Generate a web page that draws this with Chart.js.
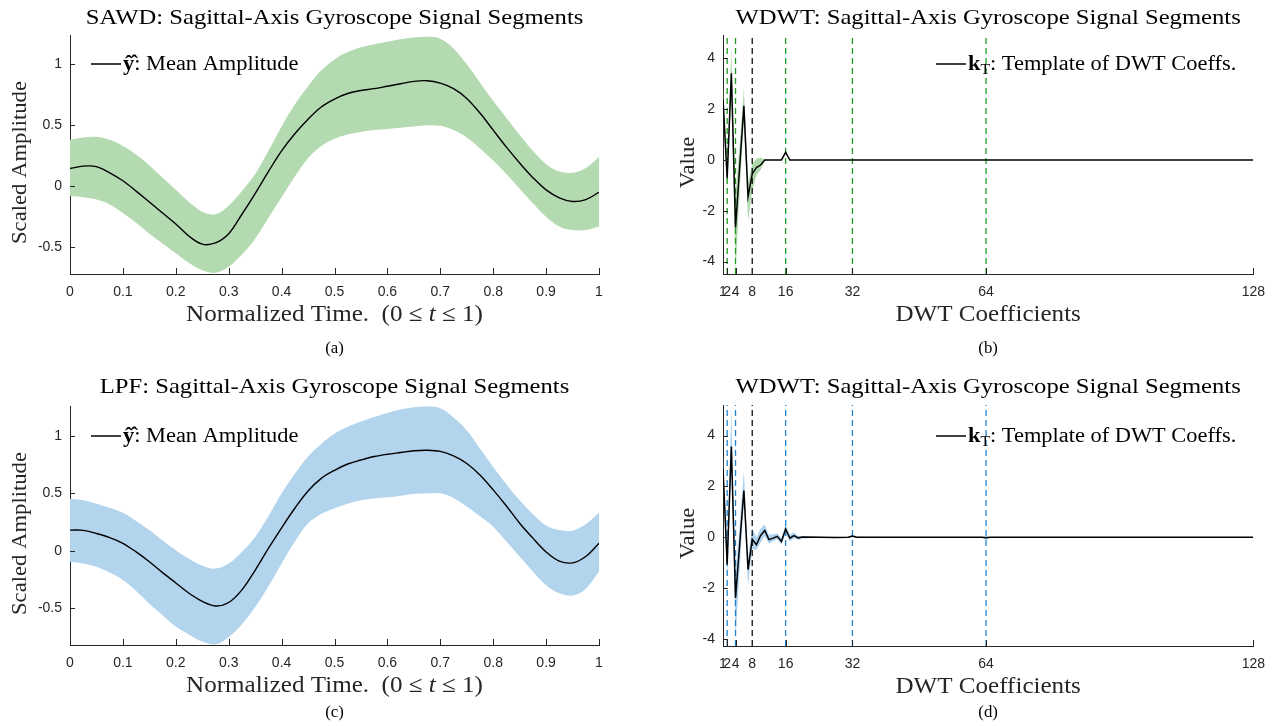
<!DOCTYPE html>
<html lang="en">
<head>
    <meta charset="UTF-8">
    <title>Sagittal-Axis Gyroscope Signal Segments</title>
    <script src="https://cdn.jsdelivr.net/npm/chart.js"></script>
    <style>
        body { margin: 0; background: #fff; }
        .figure { position: relative; width: 1275px; height: 726px; }
        .figure canvas { position: absolute; }
    </style>
</head>
<body>
<div class="figure">
    <canvas id="chartA" width="637" height="363" style="left:0;top:0"></canvas>
    <canvas id="chartB" width="637" height="363" style="left:638px;top:0"></canvas>
    <canvas id="chartC" width="637" height="363" style="left:0;top:363px"></canvas>
    <canvas id="chartD" width="637" height="363" style="left:638px;top:363px"></canvas>
</div>
<script>
    // ---- data ----
    const timeGrid = [0, 0.025, 0.05, 0.075, 0.1, 0.125, 0.15, 0.175, 0.2, 0.225,
                      0.25, 0.275, 0.3, 0.325, 0.35, 0.375, 0.4, 0.425, 0.45, 0.475,
                      0.5, 0.525, 0.55, 0.575, 0.6, 0.625, 0.65, 0.675, 0.7, 0.725,
                      0.75, 0.775, 0.8, 0.825, 0.85, 0.875, 0.9, 0.925, 0.95, 0.975, 1];

    const sawdMean  = [0.145, 0.165, 0.16, 0.11, 0.045, -0.04, -0.13, -0.22, -0.31, -0.41,
                       -0.475, -0.465, -0.39, -0.23, -0.06, 0.12, 0.29, 0.43, 0.55, 0.65,
                       0.715, 0.76, 0.785, 0.80, 0.82, 0.84, 0.86, 0.865, 0.845, 0.80,
                       0.72, 0.60, 0.46, 0.32, 0.19, 0.07, -0.03, -0.095, -0.125, -0.11, -0.05];
    const sawdUpper = [0.38, 0.40, 0.405, 0.38, 0.33, 0.26, 0.17, 0.07, -0.03, -0.13,
                       -0.21, -0.23, -0.16, -0.04, 0.10, 0.29, 0.49, 0.67, 0.82, 0.95,
                       1.04, 1.10, 1.14, 1.165, 1.185, 1.205, 1.22, 1.225, 1.21, 1.13,
                       1.00, 0.85, 0.70, 0.56, 0.42, 0.29, 0.18, 0.12, 0.11, 0.15, 0.24];
    const sawdLower = [-0.08, -0.09, -0.11, -0.15, -0.22, -0.30, -0.39, -0.47, -0.55, -0.63,
                       -0.69, -0.71, -0.66, -0.56, -0.43, -0.26, -0.09, 0.08, 0.23, 0.33,
                       0.39, 0.425, 0.445, 0.46, 0.47, 0.48, 0.49, 0.50, 0.495, 0.46,
                       0.40, 0.31, 0.21, 0.10, -0.02, -0.14, -0.25, -0.33, -0.36, -0.36, -0.33];

    const lpfMean  = [0.18, 0.178, 0.15, 0.115, 0.065, -0.01, -0.095, -0.19, -0.28, -0.37,
                      -0.44, -0.48, -0.45, -0.34, -0.17, 0.02, 0.20, 0.37, 0.52, 0.63,
                      0.70, 0.755, 0.79, 0.82, 0.84, 0.855, 0.87, 0.875, 0.865, 0.825,
                      0.76, 0.66, 0.53, 0.39, 0.24, 0.11, -0.01, -0.09, -0.105, -0.05, 0.065];
    const lpfUpper = [0.45, 0.44, 0.41, 0.375, 0.33, 0.26, 0.18, 0.09, 0.005, -0.07,
                      -0.13, -0.155, -0.11, -0.01, 0.12, 0.30, 0.50, 0.67, 0.82, 0.93,
                      1.02, 1.08, 1.125, 1.165, 1.20, 1.23, 1.25, 1.255, 1.24, 1.16,
                      1.05, 0.89, 0.73, 0.58, 0.44, 0.32, 0.22, 0.18, 0.175, 0.23, 0.33];
    const lpfLower = [-0.095, -0.11, -0.14, -0.19, -0.255, -0.35, -0.46, -0.56, -0.66, -0.73,
                      -0.79, -0.815, -0.75, -0.64, -0.49, -0.31, -0.11, 0.08, 0.24, 0.32,
                      0.37, 0.41, 0.44, 0.455, 0.465, 0.48, 0.495, 0.50, 0.50, 0.46,
                      0.385, 0.30, 0.21, 0.08, -0.05, -0.18, -0.30, -0.37, -0.39, -0.33, -0.18];

    // DWT coefficient index -> value (coefficients not listed are ~0 up to 128)
    const coeffIdxB      = [1, 2, 3, 4, 5, 6, 7, 8, 9, 10, 11, 12, 15, 16, 17, 128];
    const sawdCoeffMean  = [2.4, -0.72, 3.41, -2.66, -0.27, 2.13, -1.44, -0.55, -0.3, -0.2, 0, 0, 0, 0.3, 0, 0];
    const sawdCoeffUpper = [3.0, -0.3, 4.4, -1.4, 0.6, 2.8, -0.9, -0.15, 0.05, 0.1, 0.02, 0, 0, 0.35, 0, 0];
    const sawdCoeffLower = [1.8, -1.1, 2.6, -4.4, -1.2, 1.5, -2.4, -1.2, -0.6, -0.4, -0.05, 0, 0, 0.25, 0, 0];

    const coeffIdxD     = [1, 2, 3, 4, 5, 6, 7, 8, 9, 10, 11, 12, 13, 14, 15, 16, 17, 18, 19, 20,
                           24, 28, 31, 32, 33, 40, 50, 63, 64, 65, 128];
    const lpfCoeffMean  = [2.7, -1.07, 3.57, -2.38, -0.27, 1.84, -1.27, -0.07, -0.29, 0.07, 0.27, -0.09,
                           -0.03, 0.04, -0.16, 0.33, -0.03, 0.07, -0.02, 0.01,
                           0, -0.01, 0, 0.05, 0, 0, 0, 0, -0.02, 0, 0];
    const lpfCoeffUpper = [3.2, -0.5, 5.0, -1.4, 0.5, 2.6, -0.8, 0.35, 0.0, 0.35, 0.5, 0.1,
                           0.12, 0.15, -0.02, 0.5, 0.1, 0.2, 0.05, 0.05,
                           0.02, 0.02, 0.02, 0.1, 0.02, 0.01, 0.01, 0.01, 0.05, 0.01, 0.01];
    const lpfCoeffLower = [2.2, -1.6, 2.9, -4.0, -1.2, 1.4, -1.9, -0.45, -0.5, -0.2, 0.05, -0.25,
                           -0.15, -0.08, -0.3, 0.15, -0.15, -0.05, -0.1, -0.05,
                           -0.02, -0.03, -0.02, 0, -0.02, -0.01, -0.01, -0.01, -0.12, -0.01, -0.01];

    const timeTicks  = [0, 0.1, 0.2, 0.3, 0.4, 0.5, 0.6, 0.7, 0.8, 0.9, 1];
    const ampTicks   = [-0.5, 0, 0.5, 1];
    const coeffTicks = [1, 2, 4, 8, 16, 32, 64, 128];
    const valueTicks = [-4, -2, 0, 2, 4];
    const levelMarks = [2, 4, 8, 16, 32, 64];   // dashed decomposition level boundaries

    // ---- styling ----
    const serif = '"Liberation Serif", "Times New Roman", serif';
    const sans = '"Liberation Sans", Arial, sans-serif';
    const axisColor = '#262626';

    const toPts = (xs, ys) => xs.map((x, i) => ({ x: x, y: ys[i] }));

    // draw a run of text pieces (bold / italic / subscript) on one baseline;
    // "stretch" widens Times a little towards Computer Modern proportions
    function drawRich(ctx, parts, x, y, size, stretch, align) {
        const fontOf = p => `${p.s || ''} ${Math.round(size * (p.k || 1))}px ${serif}`;
        let w = 0;
        parts.forEach(p => { ctx.font = fontOf(p); w += ctx.measureText(p.t).width * stretch; });
        let cur = align === 'center' ? x - w / 2 : x;
        ctx.textAlign = 'left';
        parts.forEach(p => {
            ctx.font = fontOf(p);
            ctx.save();
            ctx.translate(cur, y + (p.dy || 0));
            ctx.scale(stretch, 1);
            ctx.fillText(p.t, 0, 0);
            ctx.restore();
            cur += ctx.measureText(p.t).width * stretch;
        });
    }

    // MATLAB-like decorations: inward ticks, titles, caption, legend
    const panelText = {
        id: 'panelText',
        afterDraw(chart, args, o) {
            const { ctx, chartArea: a, scales: { x, y } } = chart;
            const cx = (a.left + a.right) / 2;
            ctx.save();
            ctx.strokeStyle = axisColor;
            ctx.lineWidth = 1;
            ctx.beginPath();
            x.ticks.forEach(t => {
                const px = Math.round(x.getPixelForValue(t.value)) + 0.5;
                ctx.moveTo(px, a.bottom); ctx.lineTo(px, a.bottom - 6);
            });
            y.ticks.forEach(t => {
                const py = Math.round(y.getPixelForValue(t.value)) + 0.5;
                ctx.moveTo(a.left, py); ctx.lineTo(a.left + 5, py);
            });
            ctx.stroke();

            ctx.fillStyle = '#000';
            ctx.textBaseline = 'alphabetic';
            drawRich(ctx, o.title, cx, o.titleY, 22, 1.12, 'center');
            ctx.fillStyle = axisColor;
            drawRich(ctx, o.xTitle, cx, a.bottom + 47, 23, 1.09, 'center');
            ctx.save();
            ctx.translate(a.left + o.yTitleDx, (a.top + a.bottom) / 2 + 8);
            ctx.rotate(-Math.PI / 2);
            drawRich(ctx, o.yTitle, 0, 0, 22, 1.03, 'center');
            ctx.restore();
            ctx.fillStyle = '#000';
            drawRich(ctx, o.caption, cx, a.bottom + o.captionDy, 16, 1.05, 'center');

            // legend entry
            const lx = a.left + o.legendDx, ly = a.top + o.legendDy;
            ctx.strokeStyle = '#000';
            ctx.lineWidth = 1.5;
            ctx.beginPath();
            ctx.moveTo(lx, ly); ctx.lineTo(lx + 30, ly);
            ctx.stroke();
            drawRich(ctx, o.legend, lx + 32, ly + 6, 20, 1.12, 'left');
            ctx.restore();
        }
    };

    function panelChart(id, p) {
        return new Chart(document.getElementById(id), {
            type: 'line',
            data: { datasets: p.datasets },
            options: {
                responsive: false,
                animation: false,
                layout: { padding: p.pad },
                elements: { point: { radius: 0 } },
                plugins: {
                    legend: { display: false },
                    tooltip: { enabled: false },
                    panelText: p.text
                },
                scales: {
                    x: {
                        type: 'linear', min: p.xRange[0], max: p.xRange[1],
                        afterBuildTicks: s => { s.ticks = p.xTicks.map(v => ({ value: v })); },
                        afterFit: s => { s.height = 40; },
                        grid: { display: false, drawTicks: false },
                        border: { display: true, color: axisColor, width: 1 },
                        ticks: { autoSkip: false, maxRotation: 0, padding: 10, color: axisColor,
                                 font: { family: sans, size: 14 }, callback: v => String(v) }
                    },
                    y: {
                        type: 'linear', min: p.yRange[0], max: p.yRange[1],
                        afterBuildTicks: s => { s.ticks = p.yTicks.map(v => ({ value: v })); },
                        afterFit: s => { s.width = p.yWidth; },
                        grid: { display: false, drawTicks: false },
                        border: { display: true, color: axisColor, width: 1 },
                        ticks: { autoSkip: false, padding: 8, color: axisColor,
                                 font: { family: sans, size: 14 }, callback: v => String(v) }
                    }
                }
            },
            plugins: [panelText]
        });
    }

    function signalSets(mean, upper, lower, band) {
        const smooth = { tension: 0.35 };
        return [
            { ...smooth, data: toPts(timeGrid, mean), borderColor: '#000', borderWidth: 1.4, fill: false },
            { ...smooth, data: toPts(timeGrid, upper), borderColor: 'rgba(0,0,0,0)', backgroundColor: band, fill: '+1' },
            { ...smooth, data: toPts(timeGrid, lower), borderColor: 'rgba(0,0,0,0)', fill: false }
        ];
    }

    function coeffSets(idx, mean, upper, lower, band, markColor, yRange) {
        const marks = levelMarks.map(m => ({
            data: [{ x: m, y: yRange[0] }, { x: m, y: yRange[1] }],
            borderColor: m === 8 ? '#111' : markColor, borderWidth: 1.3, borderDash: [6, 4], fill: false
        }));
        return [
            { data: toPts(idx, mean), borderColor: '#000', borderWidth: 1.5, fill: false },
            ...marks,
            { data: toPts(idx, upper), borderColor: 'rgba(0,0,0,0)', backgroundColor: band, fill: '+1' },
            { data: toPts(idx, lower), borderColor: 'rgba(0,0,0,0)', fill: false }
        ];
    }

    const yHat = [{ t: 'y\u0302\u0302', s: 'bold' }, { t: ': Mean Amplitude' }];
    const kT = [{ t: 'k', s: 'bold' }, { t: 'T', k: 0.7, dy: 4 }, { t: ': Template of DWT Coeffs.' }];
    const timeLabel = [{ t: 'Normalized Time.  (0 \u2264 ' }, { t: 't', s: 'italic' }, { t: ' \u2264 1)' }];

    const rangeA = [-0.72, 1.24], rangeC = [-0.82, 1.26];
    const rangeB = [-4.49, 4.92], rangeD = [-4.27, 5.2];

    panelChart('chartA', {
        datasets: signalSets(sawdMean, sawdUpper, sawdLower, '#b3dab0'),
        xRange: [0, 1], yRange: rangeA, xTicks: timeTicks, yTicks: ampTicks,
        yWidth: 70, pad: { left: 0, right: 38, top: 35, bottom: 49 },
        text: { title: [{ t: 'SAWD: Sagittal-Axis Gyroscope Signal Segments' }], titleY: 24,
                xTitle: timeLabel, yTitle: [{ t: 'Scaled Amplitude' }], yTitleDx: -44,
                caption: [{ t: '(a)' }], captionDy: 79, legend: yHat, legendDx: 21, legendDy: 29 }
    });

    panelChart('chartB', {
        datasets: coeffSets(coeffIdxB, sawdCoeffMean, sawdCoeffUpper, sawdCoeffLower,
                            'rgba(110,185,105,0.55)', '#1f9a1f', rangeB),
        xRange: [1, 128], yRange: rangeB, xTicks: coeffTicks, yTicks: valueTicks,
        yWidth: 85, pad: { left: 0, right: 20, top: 35, bottom: 49 },
        text: { title: [{ t: 'WDWT: Sagittal-Axis Gyroscope Signal Segments' }], titleY: 24,
                xTitle: [{ t: 'DWT Coefficients' }], yTitle: [{ t: 'Value' }], yTitleDx: -29,
                caption: [{ t: '(b)' }], captionDy: 79, legend: kT, legendDx: 213, legendDy: 29 }
    });

    panelChart('chartC', {
        datasets: signalSets(lpfMean, lpfUpper, lpfLower, '#b2d4ec'),
        xRange: [0, 1], yRange: rangeC, xTicks: timeTicks, yTicks: ampTicks,
        yWidth: 70, pad: { left: 0, right: 38, top: 43, bottom: 41 },
        text: { title: [{ t: 'LPF: Sagittal-Axis Gyroscope Signal Segments' }], titleY: 30,
                xTitle: timeLabel, yTitle: [{ t: 'Scaled Amplitude' }], yTitleDx: -44,
                caption: [{ t: '(c)' }], captionDy: 72, legend: yHat, legendDx: 21, legendDy: 30 }
    });

    panelChart('chartD', {
        datasets: coeffSets(coeffIdxD, lpfCoeffMean, lpfCoeffUpper, lpfCoeffLower,
                            'rgba(110,175,225,0.55)', '#1f82cc', rangeD),
        xRange: [1, 128], yRange: rangeD, xTicks: coeffTicks, yTicks: valueTicks,
        yWidth: 85, pad: { left: 0, right: 20, top: 42, bottom: 40 },
        text: { title: [{ t: 'WDWT: Sagittal-Axis Gyroscope Signal Segments' }], titleY: 30,
                xTitle: [{ t: 'DWT Coefficients' }], yTitle: [{ t: 'Value' }], yTitleDx: -29,
                caption: [{ t: '(d)' }], captionDy: 71, legend: kT, legendDx: 213, legendDy: 31 }
    });
</script>
</body>
</html>
